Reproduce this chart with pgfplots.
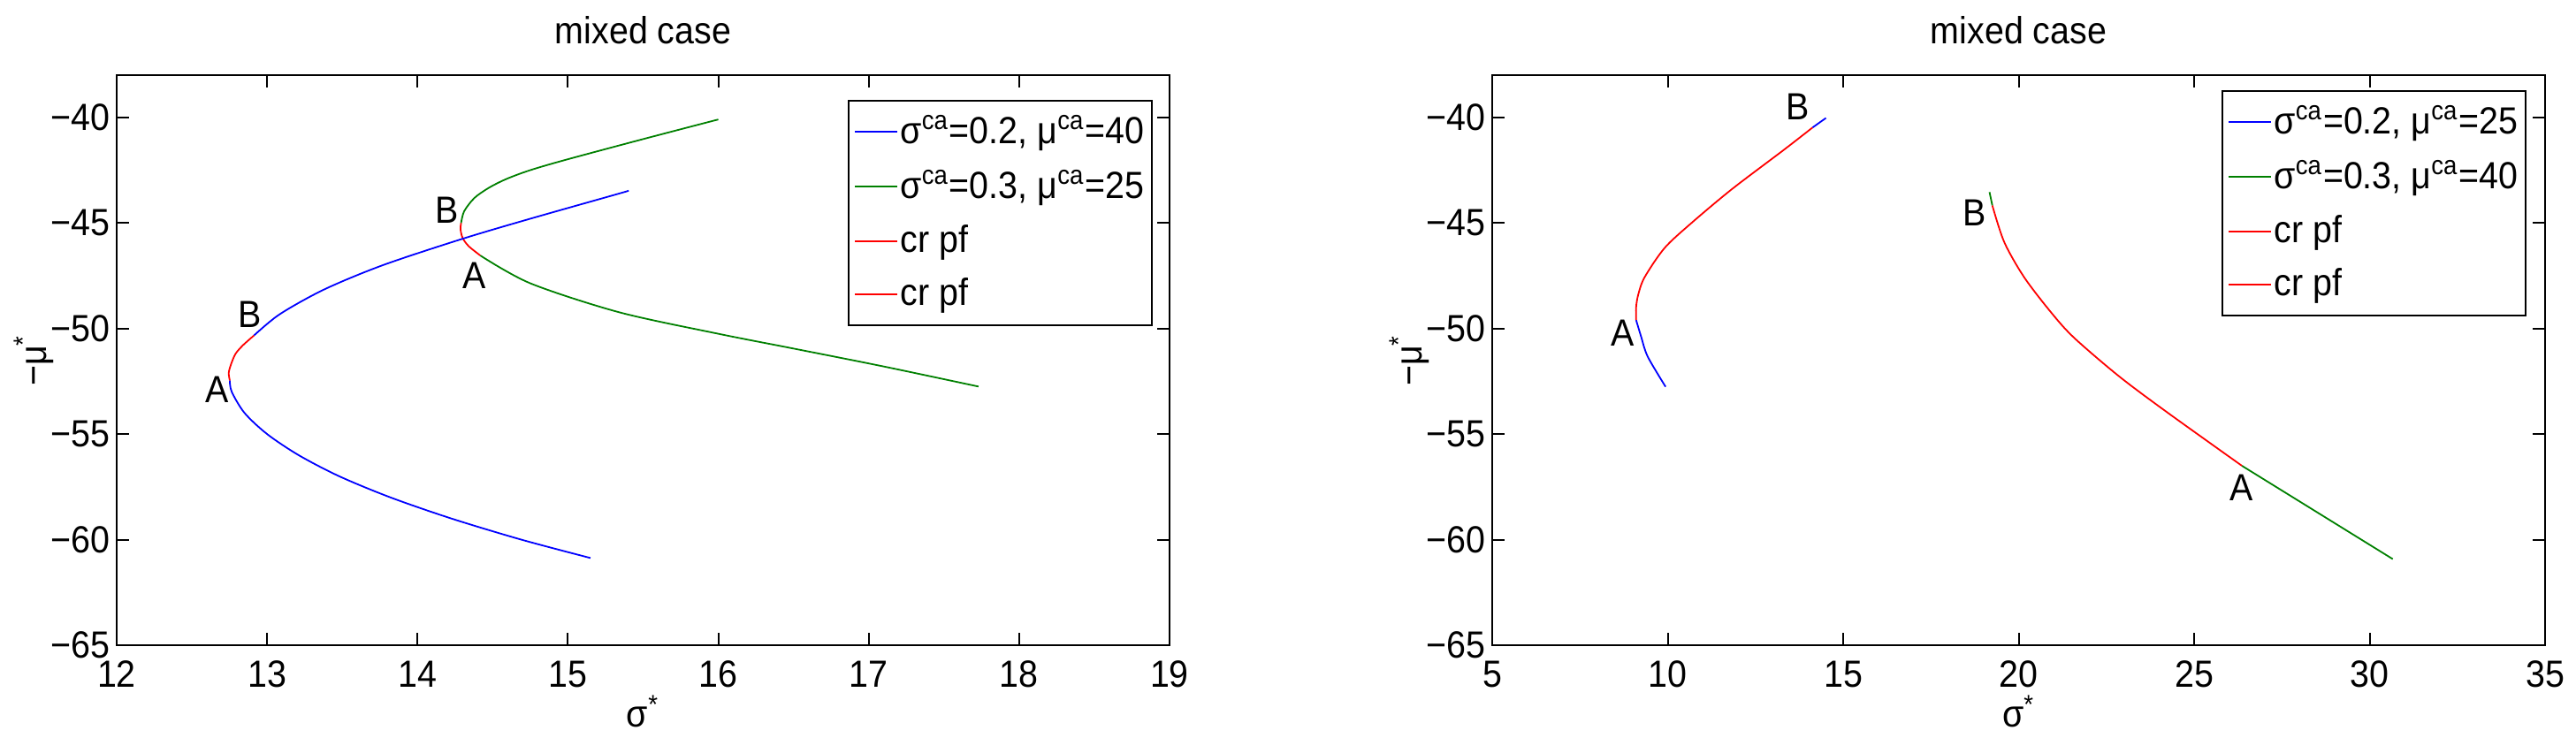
\documentclass[border=0pt]{standalone}
\usepackage{pgfplots}
\pgfplotsset{compat=1.18}
\usepackage{fontspec}
\setmainfont{Liberation Sans}[FakeStretch=0.92]
\definecolor{mblue}{rgb}{0,0,1}
\definecolor{mgreen}{rgb}{0,0.5,0}
\definecolor{mred}{rgb}{1,0,0}
\newcommand{\fs}{\fontsize{10.7}{12.8}\selectfont}
\pgfplotsset{
  every axis title shift=0pt,
  mystyle/.style={
    scale only axis, width=297.75pt, height=161.25pt,
    anchor=south west,
    ymin=-65, ymax=-38,
    ytick={-65,-60,-55,-50,-45,-40},
    yticklabels={−65,−60,−55,−50,−45,−40},
    tick align=inside, major tick length=3.5pt,
    axis line style={line width=0.5pt}, every tick/.style={black,line width=0.5pt},
    /pgf/number format/assume math mode=true,
    tick label style={font=\fs},
    xticklabel style={anchor=base, yshift=-12pt},
    yticklabel style={anchor=east, inner xsep=0pt, xshift=-1.75pt},
    title style={font=\fs, at={(0.5,1)}, anchor=base, yshift=8.75pt},
    title={mixed case},
    xlabel={σ\textsuperscript{*}},
    ylabel={−μ\textsuperscript{*}},
    xlabel style={font=\fs, at={(axis description cs:0.5,0)}, anchor=base, yshift=-23.25pt},
    ylabel style={font=\fs, at={(axis description cs:0,0.5)}, anchor=center, yshift=23.5pt},
    legend cell align=left,
    legend style={font=\fs, draw=black, line width=0.5pt, anchor=north east,
      inner xsep=1.6pt, inner ysep=2pt, row sep=2pt, column sep=0pt,
      nodes={inner xsep=0.6pt, inner ysep=2pt}},
    legend image code/.code={\draw[#1, line width=0.5pt] (0pt,0pt) -- (12pt,0pt);},
    every axis plot/.append style={line width=0.45pt, smooth},
  }
}
\begin{document}
\begin{tikzpicture}
\path[use as bounding box] (0,0) rectangle (728.5pt,208.75pt);
% ---------- left ----------
\begin{axis}[mystyle, at={(33pt,26.25pt)},
  xmin=12, xmax=19, xtick={12,13,14,15,16,17,18,19},
  legend style={at={(axis description cs:1,1)}, anchor=north east, xshift=-4.75pt, yshift=-7pt}]
\addplot[mblue] coordinates {(15.15,-60.87) (14.69,-60) (14.225,-59) (13.82,-58) (13.48,-57) (13.21,-56) (13.0,-55) (12.85,-54) (12.765,-53) (12.752,-52.46)};
\addlegendentry{σ\textsuperscript{ca}=0.2, μ\textsuperscript{ca}=40}
\addplot[mgreen] coordinates {(14.417,-46.54) (14.75,-47.86) (15.34,-49.23) (16.0,-50.25) (16.5,-50.95) (17.1,-51.8) (17.73,-52.75)};
\addlegendentry{σ\textsuperscript{ca}=0.3, μ\textsuperscript{ca}=25}
\addplot[mred] coordinates {(12.752,-52.46) (12.745,-52.1) (12.76,-51.7) (12.79,-51.2) (12.84,-50.79) (12.913,-50.33)};
\addlegendentry{cr pf}
\addplot[mred] coordinates {(14.29,-45.0) (14.286,-45.3) (14.30,-45.71) (14.34,-46.1) (14.417,-46.54)};
\addlegendentry{cr pf}
\addplot[mblue, forget plot] coordinates {(12.913,-50.33) (13.085,-49.32) (13.38,-48.15) (13.77,-47.0) (14.30,-45.75) (14.75,-44.80) (15.34,-43.61) (15.40,-43.48)};
\addplot[mgreen, forget plot] coordinates {(14.29,-45.0) (14.31,-44.45) (14.378,-43.82) (14.476,-43.33) (14.594,-42.91) (14.75,-42.50) (14.986,-42.01) (15.5,-41.03) (16.0,-40.1)};
\node[font=\fs] at (axis cs:14.198,-44.38) {B};
\node[font=\fs] at (axis cs:14.38,-47.51) {A};
\node[font=\fs] at (axis cs:12.886,-49.32) {B};
\node[font=\fs] at (axis cs:12.668,-52.91) {A};
\end{axis}
% ---------- right ----------
\begin{axis}[mystyle, at={(422pt,26.25pt)},
  xmin=5, xmax=35, xtick={5,10,15,20,25,30,35},
  legend style={at={(axis description cs:1,1)}, anchor=north east, xshift=-5.25pt, yshift=-4.25pt}]
\addplot[mblue] coordinates {(9.94,-52.76) (9.43,-51.33) (9.24,-50.37) (9.10,-49.60)};
\addlegendentry{σ\textsuperscript{ca}=0.2, μ\textsuperscript{ca}=25}
\addplot[mgreen] coordinates {(26.36,-56.5) (28.5,-58.7) (30.66,-60.92)};
\addlegendentry{σ\textsuperscript{ca}=0.3, μ\textsuperscript{ca}=40}
\addplot[mred] coordinates {(9.10,-49.60) (9.10,-49.0) (9.16,-48.4) (9.34,-47.58) (9.91,-46.19) (10.68,-45.0) (11.83,-43.40) (13.27,-41.59) (14.03,-40.61) (14.13,-40.48)};
\addlegendentry{cr pf}
\addplot[mred] coordinates {(19.25,-44.17) (19.59,-45.91) (20.16,-47.58) (20.93,-49.25) (21.58,-50.44) (22.85,-52.25) (24.19,-53.92) (26.36,-56.5)};
\addlegendentry{cr pf}
\addplot[mblue, forget plot] coordinates {(14.13,-40.48) (14.51,-40.03)};
\addplot[mgreen, forget plot] coordinates {(19.17,-43.54) (19.25,-44.17)};
\node[font=\fs] at (axis cs:13.70,-39.5) {B};
\node[font=\fs] at (axis cs:8.72,-50.23) {A};
\node[font=\fs] at (axis cs:18.75,-44.51) {B};
\node[font=\fs] at (axis cs:26.36,-57.55) {A};
\end{axis}
\end{tikzpicture}
\end{document}
